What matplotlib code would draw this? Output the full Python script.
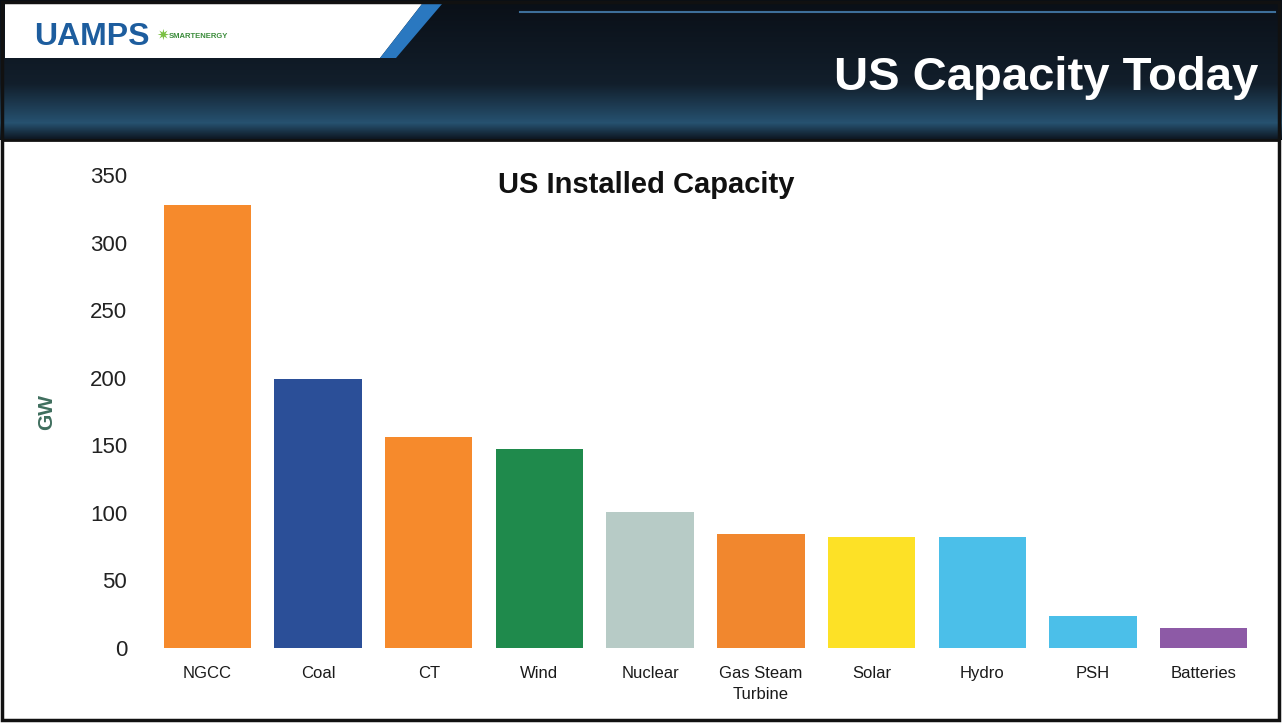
import numpy as np
import matplotlib.pyplot as plt
from matplotlib.patches import Polygon, Rectangle

plt.rcParams['font.family'] = ['Liberation Sans', 'DejaVu Sans']

# data
categories = ['NGCC', 'Coal', 'CT', 'Wind', 'Nuclear', 'Gas Steam\nTurbine',
              'Solar', 'Hydro', 'PSH', 'Batteries']
capacity_gw = [328, 199, 156, 147, 101, 84, 82, 82, 24, 15]
bar_colors = ['#f68a2c', '#2b4f98', '#f68a2c', '#1f8a4c', '#b7cbc6',
              '#f1872e', '#fde126', '#4bbfe9', '#4bbfe9', '#8d5aa6']
y_ticks = [0, 50, 100, 150, 200, 250, 300, 350]

W, H = 1282, 723
fig = plt.figure(figsize=(W / 100, H / 100), dpi=100)
fig.patch.set_facecolor('white')

# background / slide header drawn in pixel coordinates
bg = fig.add_axes([0, 0, 1, 1])
bg.set_xlim(0, W)
bg.set_ylim(H, 0)
bg.axis('off')

grad = np.linspace(0, 1, 140)
c_top = np.array([0.04, 0.06, 0.09])
c_dark = np.array([0.07, 0.12, 0.17])
c_mid = np.array([0.15, 0.32, 0.44])
c_bot = np.array([0.05, 0.08, 0.12])
cols = []
for g in grad:
    if g < 0.6:
        t = g / 0.6
        c = c_top * (1 - t) + c_dark * t
    elif g < 0.88:
        t = (g - 0.6) / 0.28
        c = c_dark * (1 - t) + c_mid * t
    else:
        t = (g - 0.88) / 0.12
        c = c_mid * (1 - t) + c_bot * t
    cols.append(c)
img = np.array(cols)[:, None, :].repeat(2, axis=1)
bg.imshow(img, extent=[0, W, 140, 0], aspect='auto', zorder=0)

bg.add_patch(Polygon([[5, 4], [422, 4], [380, 58], [5, 58]],
                     closed=True, facecolor='white', edgecolor='none', zorder=2))
bg.add_patch(Polygon([[422, 4], [442, 4], [396, 58], [380, 58]],
                     closed=True, facecolor='#2a78c0', edgecolor='none', zorder=2))
bg.plot([520, 1275], [12, 12], color='#3d6f9a', lw=1.5, zorder=2)

bg.text(34, 37, 'UAMPS', color='#1d5d9e', fontsize=23, fontweight='heavy',
        va='center', ha='left', zorder=3)
bg.text(156, 36, '\u2737', color='#7bc043', fontsize=11, va='center', zorder=3)
bg.text(169, 36, 'SMARTENERGY', color='#3b8c3b', fontsize=5.5, fontweight='bold',
        va='center', ha='left', zorder=3)

bg.text(1258, 78, 'US Capacity Today', color='white', fontsize=34,
        fontweight='bold', ha='right', va='center', zorder=3)

# slide frame
bg.add_patch(Rectangle((2, 2), W - 5, H - 5, fill=False, edgecolor='#111111',
                       lw=2.5, zorder=4))
bg.plot([2, W - 3], [140, 140], color='#111111', lw=2, zorder=4)

# chart
ax = fig.add_axes([152 / W, (H - 648) / H, (1259 - 152) / W, (648 - 175) / H])
x = np.arange(len(categories))
ax.bar(x, capacity_gw, width=0.79, color=bar_colors)
ax.set_xlim(-0.5, len(categories) - 0.5)
ax.set_ylim(0, 350)
ax.set_yticks(y_ticks)
ax.set_yticklabels([str(v) for v in y_ticks], fontsize=16, color='#222222')
ax.set_xticks(x)
ax.set_xticklabels(categories, fontsize=12, color='#1a1a1a', linespacing=1.5)
ax.tick_params(axis='both', length=0)
ax.tick_params(axis='y', pad=18)
ax.tick_params(axis='x', pad=13)
for s in ax.spines.values():
    s.set_visible(False)
ax.patch.set_alpha(0)

ax.set_ylabel('GW', fontsize=15, fontweight='bold', color='#3f6e5e')
ax.yaxis.set_label_coords((56 - 152) / (1259 - 152), 0.5)
fig.text(646 / W, 1 - 185 / H, 'US Installed Capacity', fontsize=21,
         fontweight='bold', ha='center', va='center', color='#111111')

fig.savefig('out.png', dpi=100)
